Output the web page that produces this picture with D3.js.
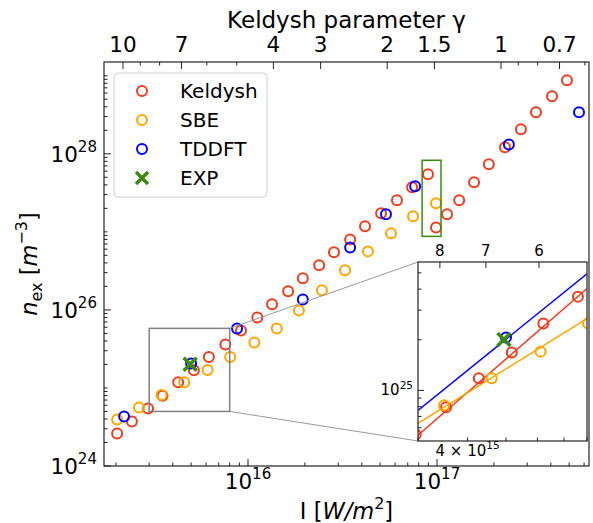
<!DOCTYPE html>
<html>
<head>
<meta charset="utf-8">
<script src="https://cdn.jsdelivr.net/npm/d3@7/dist/d3.min.js"></script>
<style>
body { margin: 0; background: #fff; }
text { font-family: "DejaVu Sans", sans-serif; fill: #000; }
</style>
</head>
<body>
<svg id="vis" width="593" height="523"></svg>
<script>
// intensity I [W/m^2] and excited carrier density n_ex [m^-3]
const keldyshI = [2.03e15, 2.43e15, 2.96e15, 3.53e15, 4.27e15, 5.17e15, 6.21e15, 7.59e15, 9.18e15,
	1.12e16, 1.34e16, 1.63e16, 1.95e16, 2.38e16, 2.85e16, 3.47e16, 4.16e16, 5.06e16, 6.14e16, 7.38e16, 8.96e16,
	9.88e16, 1.13e17, 1.31e17, 1.57e17, 1.88e17, 2.29e17, 2.78e17, 3.34e17, 4.06e17, 4.87e17];
const keldyshN = [2.61e24, 3.72e24, 5.46e24, 7.93e24, 1.18e25, 1.68e25, 2.50e25, 3.61e25, 5.46e25,
	8.0e25, 1.18e26, 1.73e26, 2.54e26, 3.72e26, 5.46e26, 8.0e26, 1.18e27, 1.73e27, 2.54e27, 3.72e27, 5.46e27,
	1.14e27, 1.68e27, 2.54e27, 4.31e27, 7.33e27, 1.21e28, 2.06e28, 3.40e28, 5.46e28, 8.75e28];

const sbeI = [2.03e15, 2.65e15, 3.49e15, 4.60e15, 6.11e15, 8.05e15, 1.08e16, 1.42e16, 1.86e16,
	2.46e16, 3.26e16, 4.31e16, 5.71e16, 7.47e16, 9.88e16];
const sbeN = [3.94e24, 5.62e24, 8.15e24, 1.18e25, 1.70e25, 2.50e25, 3.83e25, 5.79e25, 9.86e25,
	1.78e26, 3.21e26, 5.62e26, 9.57e26, 1.58e27, 2.32e27];

const tddftI = [2.21e15, 5.00e15, 8.75e15, 1.95e16, 3.47e16, 5.37e16, 7.66e16, 2.40e17, 5.64e17];
const tddftN = [4.31e24, 2.06e25, 5.79e25, 1.36e26, 6.32e26, 1.68e27, 3.83e27, 1.32e28, 3.40e28];

const expI = [4.94e15];
const expN = [2.01e25];

// power-law fits shown in the inset: [I, n] at both ends
const fitKeldysh = [[3e15, 5.41e24], [8e15, 4.03e25]];
const fitSbe = [[3e15, 6.37e24], [8e15, 2.67e25]];
const fitTddft = [[3e15, 7.6e24], [8e15, 4.94e25]];

// highlighted region (green box)
const boxI = [8.34e16, 1.05e17];
const boxN = [8.75e26, 8.26e27];

// Keldysh parameter: gamma = sqrt(I0 / I)
const gammaI0 = 2.18e17;
const gammaMajor = [10, 7, 4, 3, 2, 1.5, 1, 0.7];
const gammaMinor = [9, 8, 6, 5, 0.9, 0.8, 0.6];
const insetGamma = [8, 7, 6];

const seriesNames = ["Keldysh", "SBE", "TDDFT", "EXP"];
const colors = {Keldysh: "#f03c1e", SBE: "#ffa500", TDDFT: "#0000ff", EXP: "#3a8a12"};

// axis limits
const xDomain = [1.73e15, 6.37e17];
const yDomain = [1e24, 1.5e29];
const insetX = [3e15, 8e15];
const insetY = [5e24, 5.8e25];

const svg = d3.select("svg#vis");

const plot = {left: 104, right: 589, top: 62, bottom: 466};
const box = {left: 418, right: 587, top: 262, bottom: 441};

const x = d3.scaleLog().domain(xDomain).range([plot.left, plot.right]);
const y = d3.scaleLog().domain(yDomain).range([plot.bottom, plot.top]);
const xi = d3.scaleLog().domain(insetX).range([box.left, box.right]);
const yi = d3.scaleLog().domain(insetY).range([box.bottom, box.top]);

const gammaToI = gm => gammaI0 / (gm * gm);
const isPow10 = d => Math.abs(Math.log10(d) - Math.round(Math.log10(d))) < 1e-6;

const defs = svg.append("defs");
defs.append("clipPath").attr("id", "clipMain").append("rect")
	.attr("x", plot.left).attr("y", plot.top)
	.attr("width", plot.right - plot.left).attr("height", plot.bottom - plot.top);
defs.append("clipPath").attr("id", "clipInset").append("rect")
	.attr("x", box.left).attr("y", box.top)
	.attr("width", box.right - box.left).attr("height", box.bottom - box.top);

// superscript label helper, e.g. 10^28
function supText(sel, base, exp, size) {
	sel.attr("font-size", size);
	sel.append("tspan").text(base);
	sel.append("tspan").attr("font-size", size * 0.7).attr("dy", -size * 0.45).text(exp);
}

function drawPoints(group, xs, ys, I, N, color) {
	group.selectAll(null)
		.data(d3.zip(I, N))
		.enter()
		.append("circle")
		.attr("cx", d => xs(d[0]))
		.attr("cy", d => ys(d[1]))
		.attr("r", 5)
		.attr("fill", "none")
		.attr("stroke", color)
		.attr("stroke-width", 2);
}

function drawCross(group, xs, ys, I, N, color, s) {
	group.selectAll(null)
		.data(d3.zip(I, N))
		.enter()
		.append("path")
		.attr("transform", d => translate(xs(d[0]), ys(d[1])))
		.attr("d", `M${-s},${-s}L${s},${s}M${-s},${s}L${s},${-s}`)
		.attr("stroke", color)
		.attr("stroke-width", 3.5)
		.attr("fill", "none");
}

function drawAll(group, xs, ys) {
	drawPoints(group, xs, ys, keldyshI, keldyshN, colors.Keldysh);
	drawPoints(group, xs, ys, sbeI, sbeN, colors.SBE);
	drawPoints(group, xs, ys, tddftI, tddftN, colors.TDDFT);
	drawCross(group, xs, ys, expI, expN, colors.EXP, 6.5);
}

// ---- main axes ----
const main = svg.append("g").attr("clip-path", "url(#clipMain)");
drawAll(main, x, y);

main.append("rect")
	.attr("x", x(boxI[0])).attr("y", y(boxN[1]))
	.attr("width", x(boxI[1]) - x(boxI[0]))
	.attr("height", y(boxN[0]) - y(boxN[1]))
	.attr("fill", "none")
	.attr("stroke", colors.EXP)
	.attr("stroke-width", 1.5);

// zoom indicator + connectors
const zx0 = x(insetX[0]), zx1 = x(insetX[1]);
const zy0 = y(insetY[1]), zy1 = y(insetY[0]);
main.append("line")
	.attr("x1", zx1).attr("y1", zy0).attr("x2", box.left).attr("y2", box.top)
	.attr("stroke", "#999").attr("stroke-width", 1);
main.append("line")
	.attr("x1", zx1).attr("y1", zy1).attr("x2", box.left).attr("y2", box.bottom)
	.attr("stroke", "#999").attr("stroke-width", 1);
main.append("rect")
	.attr("x", zx0).attr("y", zy0)
	.attr("width", zx1 - zx0).attr("height", zy1 - zy0)
	.attr("fill", "none").attr("stroke", "#808080").attr("stroke-width", 1.5);

// ticks (inward)
const axes = svg.append("g").attr("stroke", "#222").attr("stroke-width", 1);

x.ticks().forEach(t => {
	const len = isPow10(t) ? 7 : 3.5;
	axes.append("line").attr("x1", x(t)).attr("x2", x(t))
		.attr("y1", plot.bottom).attr("y2", plot.bottom - len);
	if (isPow10(t)) {
		svg.append("text").attr("x", x(t)).attr("y", 489).attr("text-anchor", "middle")
			.call(supText, "10", Math.round(Math.log10(t)), 21.5);
	}
});

y.ticks().forEach(t => {
	const e = Math.round(Math.log10(t));
	const major = isPow10(t) && e % 2 === 0;
	const len = major ? 7 : 3.5;
	axes.append("line").attr("x1", plot.left).attr("x2", plot.left + len)
		.attr("y1", y(t)).attr("y2", y(t));
	if (major) {
		svg.append("text").attr("x", 97).attr("y", y(t) + 8).attr("text-anchor", "end")
			.call(supText, "10", e, 21.5);
	}
});

gammaMajor.concat(gammaMinor).forEach(gm => {
	const major = gammaMajor.includes(gm);
	const px = x(gammaToI(gm));
	axes.append("line").attr("x1", px).attr("x2", px)
		.attr("y1", plot.top).attr("y2", plot.top + (major ? 7 : 3.5));
	if (major) {
		svg.append("text").attr("x", px).attr("y", 52).attr("text-anchor", "middle")
			.attr("font-size", 21.5).text(gm);
	}
});

svg.append("rect")
	.attr("x", plot.left).attr("y", plot.top)
	.attr("width", plot.right - plot.left).attr("height", plot.bottom - plot.top)
	.attr("fill", "none").attr("stroke", "#222").attr("stroke-width", 1.2);

// axis labels
svg.append("text").attr("x", (plot.left + plot.right) / 2).attr("y", 28)
	.attr("text-anchor", "middle").attr("font-size", 23).text("Keldysh parameter γ");

const xl = svg.append("text").attr("x", (plot.left + plot.right) / 2).attr("y", 519)
	.attr("text-anchor", "middle").attr("font-size", 22.5);
xl.append("tspan").text("I [");
xl.append("tspan").attr("font-style", "italic").text("W/m");
xl.append("tspan").attr("font-size", 16).attr("dy", -10).text("2");
xl.append("tspan").attr("dy", 10).text("]");

const yl = svg.append("text")
	.attr("transform", translate(37, (plot.top + plot.bottom) / 2) + " rotate(-90)")
	.attr("text-anchor", "middle").attr("font-size", 22.5);
yl.append("tspan").attr("font-style", "italic").text("n");
yl.append("tspan").attr("font-size", 16).attr("dy", 5).text("ex");
yl.append("tspan").attr("dy", -5).text(" [");
yl.append("tspan").attr("font-style", "italic").text("m");
yl.append("tspan").attr("font-size", 16).attr("dy", -10).text("−3");
yl.append("tspan").attr("dy", 10).text("]");

// ---- legend ----
const legend = svg.append("g");
legend.append("rect")
	.attr("x", 114).attr("y", 73).attr("width", 153).attr("height", 124).attr("rx", 4)
	.attr("fill", "#fff").attr("fill-opacity", 0.8)
	.attr("stroke", "#d0d0d0").attr("stroke-width", 1);
seriesNames.forEach((name, i) => {
	const row = legend.append("g").attr("transform", translate(142, 91 + i * 29));
	if (name === "EXP") {
		row.append("path").attr("d", "M-6,-6L6,6M-6,6L6,-6")
			.attr("stroke", colors[name]).attr("stroke-width", 3.5).attr("fill", "none");
	} else {
		row.append("circle").attr("r", 5).attr("fill", "none")
			.attr("stroke", colors[name]).attr("stroke-width", 2);
	}
	row.append("text").attr("x", 38).attr("y", 7).attr("font-size", 20).text(name);
});

// ---- inset ----
const inset = svg.append("g");
inset.append("rect")
	.attr("x", box.left).attr("y", box.top)
	.attr("width", box.right - box.left).attr("height", box.bottom - box.top)
	.attr("fill", "#fff");

const insetData = inset.append("g").attr("clip-path", "url(#clipInset)");
const fitLine = d3.line().x(d => xi(d[0])).y(d => yi(d[1]));
[[fitTddft, colors.TDDFT], [fitKeldysh, colors.Keldysh], [fitSbe, colors.SBE]].forEach(f => {
	insetData.append("path").attr("d", fitLine(f[0]))
		.attr("fill", "none").attr("stroke", f[1]).attr("stroke-width", 1.5);
});
drawAll(insetData, xi, yi);

const insetAxes = inset.append("g").attr("stroke", "#222").attr("stroke-width", 1);
xi.ticks().forEach(t => {
	insetAxes.append("line").attr("x1", xi(t)).attr("x2", xi(t))
		.attr("y1", box.bottom).attr("y2", box.bottom - 3.5);
});
inset.append("text").attr("x", xi(4e15)).attr("y", 456).attr("text-anchor", "middle")
	.call(supText, "4 × 10", 15, 15);

yi.ticks().forEach(t => {
	const major = isPow10(t);
	insetAxes.append("line").attr("x1", box.left).attr("x2", box.left + (major ? 6 : 3.5))
		.attr("y1", yi(t)).attr("y2", yi(t));
	if (major) {
		inset.append("text").attr("x", 413).attr("y", yi(t) + 5).attr("text-anchor", "end")
			.call(supText, "10", Math.round(Math.log10(t)), 15);
	}
});

insetGamma.forEach(gm => {
	const px = xi(gammaToI(gm));
	insetAxes.append("line").attr("x1", px).attr("x2", px)
		.attr("y1", box.top).attr("y2", box.top + 6);
	inset.append("text").attr("x", px).attr("y", 256).attr("text-anchor", "middle")
		.attr("font-size", 15).text(gm);
});

inset.append("rect")
	.attr("x", box.left).attr("y", box.top)
	.attr("width", box.right - box.left).attr("height", box.bottom - box.top)
	.attr("fill", "none").attr("stroke", "#222").attr("stroke-width", 1.2);

//Helper
function translate(a, b) {
	return "translate(" + a + "," + b + ")";
}
</script>
</body>
</html>
